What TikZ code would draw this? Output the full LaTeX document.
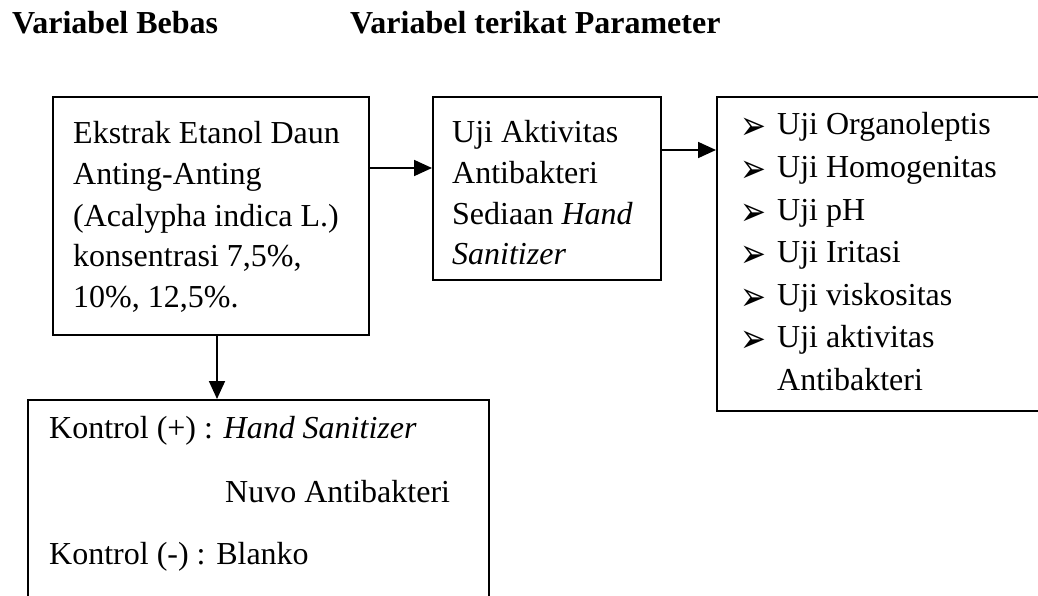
\documentclass[tikz,border=0pt]{standalone}
\usepackage{fontspec}
\setmainfont{Liberation Serif}
\newfontfamily\symfont{DejaVu Sans}
\usetikzlibrary{arrows.meta}
\tikzset{
  box/.style={draw, line width=1.8pt, rectangle, inner sep=0pt, anchor=north west},
  txt/.style={anchor=base west, inner sep=0pt, font=\fontsize{32}{41}\selectfont},
  ttl/.style={anchor=base west, inner sep=0pt, font=\fontsize{32}{41}\selectfont\bfseries},
  arr/.style={line width=1.8pt, -{Triangle[length=18pt,width=16pt]}},
  bul/.style={anchor=base west, inner sep=0pt, font=\symfont\fontsize{31}{31}\selectfont}
}
\begin{document}
\begin{tikzpicture}[x=1pt,y=-1pt]
\useasboundingbox (0,0) rectangle (1038,596);
\begin{scope}
\clip (0,0) rectangle (1038,596);
% titles
\node[ttl] (h1) at (12,34) {Variabel Bebas};
\node[ttl] (h2) at (350,34) {Variabel terikat Parameter};
% boxes
\node[box, minimum width=316pt, minimum height=238pt] (b1) at (52,96) {};
\node[box, minimum width=228pt, minimum height=183pt] (b2) at (432,96) {};
\node[box, minimum width=330pt, minimum height=314pt] (b3) at (716,96) {};
\node[box, minimum width=461pt, minimum height=230pt] (b4) at (27,399) {};
% box 1 text
\node[txt] (t11) at (73,144) {Ekstrak Etanol Daun};
\node[txt] (t12) at (73,185) {Anting-Anting};
\node[txt] (t13) at (73,226) {(Acalypha indica L.)};
\node[txt] (t14) at (73,266) {konsentrasi 7,5\%,};
\node[txt] (t15) at (73,307) {10\%, 12,5\%.};
% box 2 text
\node[txt] (t21) at (452,143) {Uji Aktivitas};
\node[txt] (t22) at (452,184) {Antibakteri};
\node[txt] (t23) at (452,224) {Sediaan \textit{Hand}};
\node[txt] (t24) at (452,264) {\textit{Sanitizer}};
% box 3 list
\foreach \i/\t in {0/Uji Organoleptis,1/Uji Homogenitas,2/Uji pH,3/Uji Iritasi,4/Uji viskositas,5/Uji aktivitas}{
  \node[bul] (s\i) at (740,140+42.5*\i) {\scalebox{1}[1.3]{➢}};
  \node[txt] (l\i) at (777,135+42.5*\i) {\t};
}
\node[txt] (l6) at (777,390) {Antibakteri};
% box 4 text
\node[txt] (t41) at (49,438) {Kontrol (+) : \textit{Hand Sanitizer}};
\node[txt] (t42) at (225,502) {Nuvo Antibakteri};
\node[txt] (t43) at (49,564) {Kontrol (-) : Blanko};
% connectors
\coordinate (y1) at (0,168);
\coordinate (y2) at (0,150);
\coordinate (x3) at (217,0);
\draw[arr] (b1.east |- y1) -- (b2.west |- y1);
\draw[arr] (b2.east |- y2) -- (b3.west |- y2);
\draw[arr] (b1.south -| x3) -- (b4.north -| x3);
\end{scope}
\end{tikzpicture}
\end{document}
